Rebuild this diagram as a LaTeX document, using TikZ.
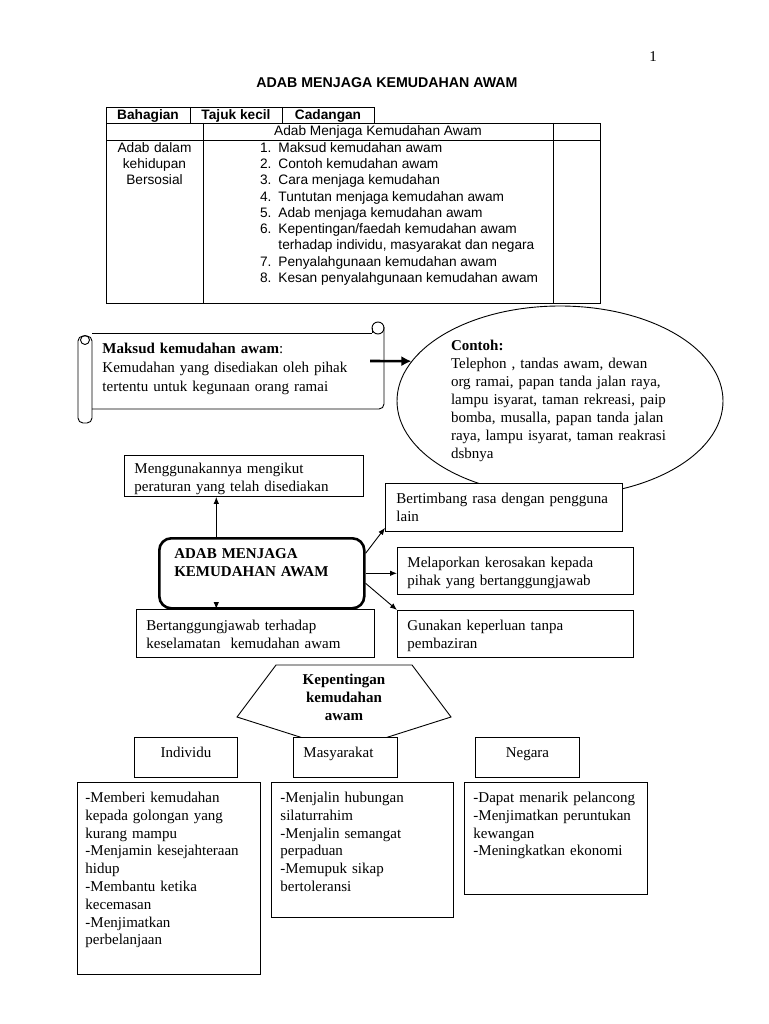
\documentclass[tikz,border=0pt]{standalone}
\usepackage{fontspec}
\setmainfont{Liberation Serif}
\newfontfamily\arialfont{Liberation Sans}
\usetikzlibrary{shapes.geometric,arrows.meta}

\newcommand\bodyfont{\fontsize{15}{18}\selectfont}
\newcommand\listfont{\fontsize{15}{17.8}\selectfont}
\newcommand\tblfont{\arialfont\fontsize{13.7}{16.25}\selectfont}

\begin{document}
\begin{tikzpicture}[x=1pt,y=-1pt,line width=0.9pt,
  >={Latex[length=7pt,width=5.5pt]},
  box/.style={draw,fill=white,anchor=north west,align=left,inner xsep=10pt,inner ysep=0pt,font=\bodyfont},
  listbox/.style={box,inner xsep=8pt,font=\listfont},
  conn/.style={->,line width=0.9pt}]
\path[use as bounding box,fill=white] (0,0) rectangle (768,1024);

% page number and title
\node[font=\bodyfont,anchor=base] (pagenum) at (653,62) {1};
\node[font=\arialfont\fontsize{14.2}{16}\selectfont\bfseries,anchor=base] (title) at (387,88) {ADAB MENJAGA KEMUDAHAN AWAM};

% table
\draw (106,107) rectangle (374,123);
\draw (190,107) -- (190,123);
\draw (282,107) -- (282,123);
\draw (106,123) rectangle (600,303);
\draw (106,140) -- (600,140);
\draw (203,123) -- (203,303);
\draw (553,123) -- (553,303);
\node[font=\tblfont\bfseries,anchor=base] (bahagian) at (148,120) {Bahagian};
\node[font=\tblfont\bfseries,anchor=base] (tajuk) at (236,120) {Tajuk kecil};
\node[font=\tblfont\bfseries,anchor=base] (cadangan) at (328,120) {Cadangan};
\node[font=\tblfont,anchor=base] (tajukutama) at (378,136) {Adab Menjaga Kemudahan Awam};
\node[font=\tblfont,anchor=base,text width=92pt,align=center,inner sep=0pt] (sosial) at (154.5,152.5)
  {Adab dalam\\ kehidupan\\ Bersosial};
\node[font=\tblfont,anchor=base west,inner sep=0pt] (senarai) at (259.6,152.5)
  {\begin{tabular}[t]{@{}r@{\hspace{7pt}}l@{}}
  1. & Maksud kemudahan awam\\
  2. & Contoh kemudahan awam\\
  3. & Cara menjaga kemudahan\\
  4. & Tuntutan menjaga kemudahan awam\\
  5. & Adab menjaga kemudahan awam\\
  6. & Kepentingan/faedah kemudahan awam\\
     & terhadap individu, masyarakat dan negara\\
  7. & Penyalahgunaan kemudahan awam\\
  8. & Kesan penyalahgunaan kemudahan awam
  \end{tabular}};

% scroll
\draw[rounded corners=5pt] (78,336) rectangle (92,423);
\draw (85,340) circle (4.5pt);
\draw (92,333) -- (372,333);
\draw[rounded corners=5pt] (92,409) -- (384,409) -- (384,327);
\draw (378,328) circle (6pt);
\draw (372,328) -- (372,333);
\node[anchor=base west,text width=275pt,align=left,inner sep=0pt,font=\fontsize{15}{19}\selectfont] (maksud) at (102,353)
  {\textbf{Maksud kemudahan awam}:\\ Kemudahan yang disediakan oleh pihak\\ tertentu untuk kegunaan orang ramai};
\coordinate (tail) at (370,361);

% contoh
\node[draw,ellipse,minimum width=326pt,minimum height=190pt,inner sep=0pt,text width=218pt,align=left,font=\bodyfont] (contoh) at (560,401)
  {\textbf{Contoh:}\\ Telephon , tandas awam, dewan\\ org ramai, papan tanda jalan raya,\\ lampu isyarat, taman rekreasi, paip\\
   bomba, musalla, papan tanda jalan\\ raya, lampu isyarat, taman reakrasi\\ dsbnya};
\draw[line width=2.6pt,-{Latex[length=10pt,width=10pt]}] (tail) -- (contoh.165);

% adab menjaga
\node[box,text width=219pt,text height=18pt,text depth=23pt] (ikut) at (124,455)
  {Menggunakannya mengikut\\ peraturan yang telah disediakan};
\node[box,inner xsep=11pt,text width=215pt,text height=20pt,text depth=28pt] (timbang) at (385,483)
  {Bertimbang rasa dengan pengguna\\ lain};
\node[box,text width=216pt,text height=20pt,text depth=27pt] (lapor) at (397,547)
  {Melaporkan kerosakan kepada\\ pihak yang bertanggungjawab};
\node[box,text width=216pt,text height=20pt,text depth=27pt] (guna) at (397,610)
  {Gunakan keperluan tanpa\\ pembaziran};
\node[box,text width=218pt,text height=21pt,text depth=27pt] (jawab) at (136,609)
  {Bertanggungjawab terhadap\\ keselamatan\ \ kemudahan awam};
\node[box,inner xsep=15pt,text width=175pt,text height=20pt,text depth=50pt,line width=2.6pt,rounded corners=12pt,font=\bodyfont\bfseries] (adab) at (158,537)
  {ADAB MENJAGA\\ KEMUDAHAN AWAM};

\draw[conn] ([xshift=-45.5pt]adab.north) -- ([xshift=-45.5pt]adab.north |- ikut.south);
\draw[conn] ([xshift=-45.5pt,yshift=7pt]adab.south) -- ([xshift=-45.5pt]adab.south |- jawab.north);
\draw[conn] ([yshift=20pt]adab.east) -- ([yshift=4pt]timbang.south west);
\draw[conn] (adab.east) -- (adab.east -| lapor.west);
\draw[conn] ([yshift=-10pt]adab.east) -- (guna.north west);

% kepentingan
\draw (276,665) -- (412,665) -- (451,717) -- (344,751) -- (237,717) -- cycle;
\node[font=\bodyfont\bfseries,anchor=base,text width=120pt,align=center,inner sep=0pt] (penting) at (344,684)
  {Kepentingan\\ kemudahan\\ awam};
\node[box,align=center,text width=83pt,text height=20pt,text depth=20pt] (individu) at (134,737) {Individu};
\node[box,text width=84pt,text height=20pt,text depth=20pt] (masy) at (293,737) {Masyarakat};
\node[box,align=center,text width=84pt,text height=20pt,text depth=20pt] (negara) at (475,737) {Negara};

\node[listbox,text width=167pt,text height=20pt,text depth=172pt] (indlist) at (77,782)
  {-Memberi kemudahan\\ kepada golongan yang\\ kurang mampu\\ -Menjamin kesejahteraan\\ hidup\\
   -Membantu ketika\\ kecemasan\\ -Menjimatkan\\ perbelanjaan};
\node[listbox,inner xsep=9pt,text width=164pt,text height=20pt,text depth=115pt] (masylist) at (271,782)
  {-Menjalin hubungan\\ silaturrahim\\ -Menjalin semangat\\ perpaduan\\ -Memupuk sikap\\ bertoleransi};
\node[listbox,inner xsep=9pt,text width=165pt,text height=20pt,text depth=92pt] (neglist) at (464,782)
  {-Dapat menarik pelancong\\ -Menjimatkan peruntukan\\ kewangan\\ -Meningkatkan ekonomi};
\end{tikzpicture}
\end{document}
